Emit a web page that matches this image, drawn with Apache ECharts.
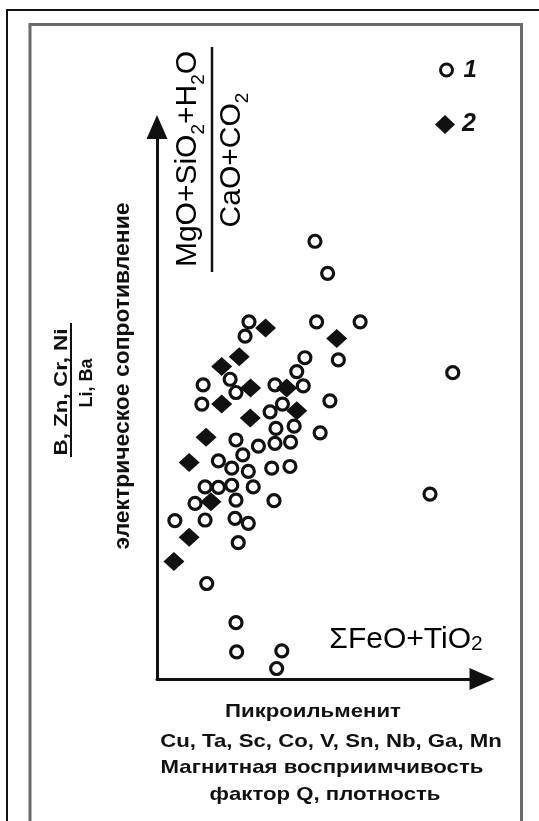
<!DOCTYPE html>
<html>
<head>
<meta charset="utf-8">
<script src="https://cdn.jsdelivr.net/npm/echarts@6/dist/echarts.min.js"></script>
<style>
html,body{margin:0;padding:0;background:#fff;}
#chart{width:539px;height:821px;}
</style>
</head>
<body>
<div id="chart"></div>
<script>
// Series 1 (open circles) and series 2 (filled diamonds), arbitrary units
var series1Name = '1';
var series1X = [4.86,5.25,2.83,4.91,6.25,2.71,4.55,5.58,4.30,2.25,1.42,3.63,4.50,2.43,1.38,5.32,3.86,3.48,3.66,4.22,5.02,2.43,3.12,3.63,4.11,2.64,1.89,2.30,2.81,3.53,4.09,1.48,1.89,2.30,2.96,1.17,2.43,3.60,0.55,1.48,2.40,2.81,2.50,1.53,2.43,2.45,3.84,3.68,9.10,8.40];
var series1Y = [7.93,7.35,6.47,6.47,6.47,6.21,5.82,5.78,5.57,5.43,5.33,5.33,5.31,5.19,4.98,5.04,4.98,4.84,4.54,4.58,4.46,4.33,4.22,4.27,4.29,4.06,3.95,3.82,3.76,3.82,3.85,3.48,3.47,3.51,3.48,3.18,3.24,3.23,2.87,2.88,2.91,2.82,2.47,1.73,1.02,0.49,0.51,0.19,5.55,3.35];
var series2Name = '2';
var series2X = [3.34,5.53,2.53,1.99,2.88,3.99,1.99,4.30,2.87,1.51,0.99,1.66,0.99,0.52];
var series2Y = [6.36,6.17,5.84,5.66,5.27,5.27,4.98,4.86,4.73,4.38,3.92,3.21,2.57,2.13];

var xAxisTitle = ['ΣFeO+TiO', '2'];
var yAxisTitleNum = ['MgO+SiO', '2', '+H', '2', 'O'];
var yAxisTitleDen = ['CaO+CO', '2'];
var leftNum = 'B, Zn, Cr, Ni';
var leftDen = 'Li, Ba';
var leftTitle = 'электрическое сопротивление';
var bottomLines = ['Пикроильменит', 'Cu, Ta, Sc, Co, V, Sn, Nb, Ga, Mn', 'Магнитная восприимчивость', 'фактор Q, плотность'];

function pairs(xs, ys){ return xs.map(function(x,i){ return [x, ys[i]]; }); }

var FONT = '"Liberation Sans", Arial, sans-serif';
var INK = '#111';

var chart = echarts.init(document.getElementById('chart'), null, {renderer:'canvas'});

function richFrac(parts){
  var s = '';
  parts.forEach(function(p, i){ s += (i % 2 === 0 ? '{a|' : '{s|') + p + '}'; });
  return s;
}

function boldText(txt, x, y, size, sx, rot){
  return {type: 'text', x: x, y: y, rotation: rot || 0, scaleX: sx, silent: true,
    style: {text: txt, align: 'center', verticalAlign: 'middle', fontFamily: FONT, fontSize: size, fontWeight: 'bold', fill: INK}};
}

var option = {
  backgroundColor: '#fff',
  animation: false,
  grid: {left: 157, top: 127, width: 325, height: 552},
  xAxis: {
    type: 'value', min: 0, max: 10,
    axisLine: {show: true, onZero: false, symbol: ['none', 'triangle'], symbolSize: [22, 25], lineStyle: {color: INK, width: 3}},
    axisTick: {show: false}, axisLabel: {show: false}, splitLine: {show: false}
  },
  yAxis: {
    type: 'value', min: 0, max: 10,
    axisLine: {show: true, onZero: false, symbol: ['none', 'triangle'], symbolSize: [21, 24], lineStyle: {color: INK, width: 3}},
    axisTick: {show: false}, axisLabel: {show: false}, splitLine: {show: false}
  },
  legend: [
    {
      data: [series1Name], orient: 'vertical', left: 439, top: 58, padding: 0,
      itemWidth: 12, itemHeight: 12,
      itemStyle: {borderWidth: 3},
      textStyle: {fontFamily: FONT, fontSize: 24, fontWeight: 'bold', fontStyle: 'italic', color: INK, lineHeight: 24, padding: [0,0,0,6]},
      selectedMode: false
    },
    {
      data: [series2Name], orient: 'vertical', left: 435, top: 112, padding: 0,
      itemWidth: 20, itemHeight: 19,
      textStyle: {fontFamily: FONT, fontSize: 25, fontWeight: 'bold', fontStyle: 'italic', color: INK, lineHeight: 25, padding: [0,0,0,2]},
      selectedMode: false
    }
  ],
  series: [
    {
      name: series1Name, type: 'scatter', symbol: 'circle', symbolSize: 12,
      itemStyle: {color: '#fff', borderColor: INK, borderWidth: 3.2, opacity: 1},
      emphasis: {disabled: true}, z: 2,
      data: pairs(series1X, series1Y)
    },
    {
      name: series2Name, type: 'scatter', symbol: 'diamond', symbolSize: [21, 19],
      itemStyle: {color: INK, opacity: 1},
      emphasis: {disabled: true}, z: 3,
      data: pairs(series2X, series2Y)
    }
  ],
  graphic: [
    {type: 'rect', shape: {x: 7, y: 10, width: 700, height: 900}, style: {fill: 'none', stroke: INK, lineWidth: 2}, silent: true},
    {type: 'rect', shape: {x: 30, y: 24.5, width: 491.5, height: 900}, style: {fill: 'none', stroke: '#6a6a6a', lineWidth: 3}, silent: true},
    // y-axis formula
    {type: 'text', x: 188, y: 159, rotation: Math.PI / 2, silent: true,
      style: {text: richFrac(yAxisTitleNum), align: 'center', verticalAlign: 'middle',
        rich: {a: {fontFamily: FONT, fontSize: 30, color: INK, lineHeight: 30}, s: {fontFamily: FONT, fontSize: 19, color: INK, padding: [22,0,0,0]}}}},
    {type: 'line', shape: {x1: 212, y1: 47, x2: 212, y2: 272}, style: {stroke: INK, lineWidth: 2.5}, silent: true},
    {type: 'text', x: 232, y: 160, rotation: Math.PI / 2, silent: true,
      style: {text: richFrac(yAxisTitleDen), align: 'center', verticalAlign: 'middle',
        rich: {a: {fontFamily: FONT, fontSize: 30, color: INK, lineHeight: 30}, s: {fontFamily: FONT, fontSize: 19, color: INK, padding: [22,0,0,0]}}}},
    // x-axis formula
    {type: 'text', x: 406, y: 640, silent: true,
      style: {text: '{a|' + xAxisTitle[0] + '}{s|' + xAxisTitle[1] + '}', align: 'center', verticalAlign: 'middle',
        rich: {a: {fontFamily: FONT, fontSize: 30, color: INK, lineHeight: 30}, s: {fontFamily: FONT, fontSize: 21, color: INK, lineHeight: 21, verticalAlign: 'bottom'}}}},
    // left labels
    boldText(leftNum, 62, 392, 19, 1.18, Math.PI / 2),
    {type: 'line', shape: {x1: 71, y1: 323, x2: 71, y2: 457}, style: {stroke: INK, lineWidth: 2}, silent: true},
    boldText(leftDen, 87, 383, 18, 1.0, Math.PI / 2),
    boldText(leftTitle, 123, 376, 22, 1.04, Math.PI / 2),
    // bottom labels
    boldText(bottomLines[0], 313, 712, 18.5, 1.2),
    boldText(bottomLines[1], 331, 742, 18.5, 1.2),
    boldText(bottomLines[2], 322, 768, 18.5, 1.2),
    boldText(bottomLines[3], 325, 795, 18.5, 1.2)
  ]
};
chart.setOption(option);
</script>
</body>
</html>
